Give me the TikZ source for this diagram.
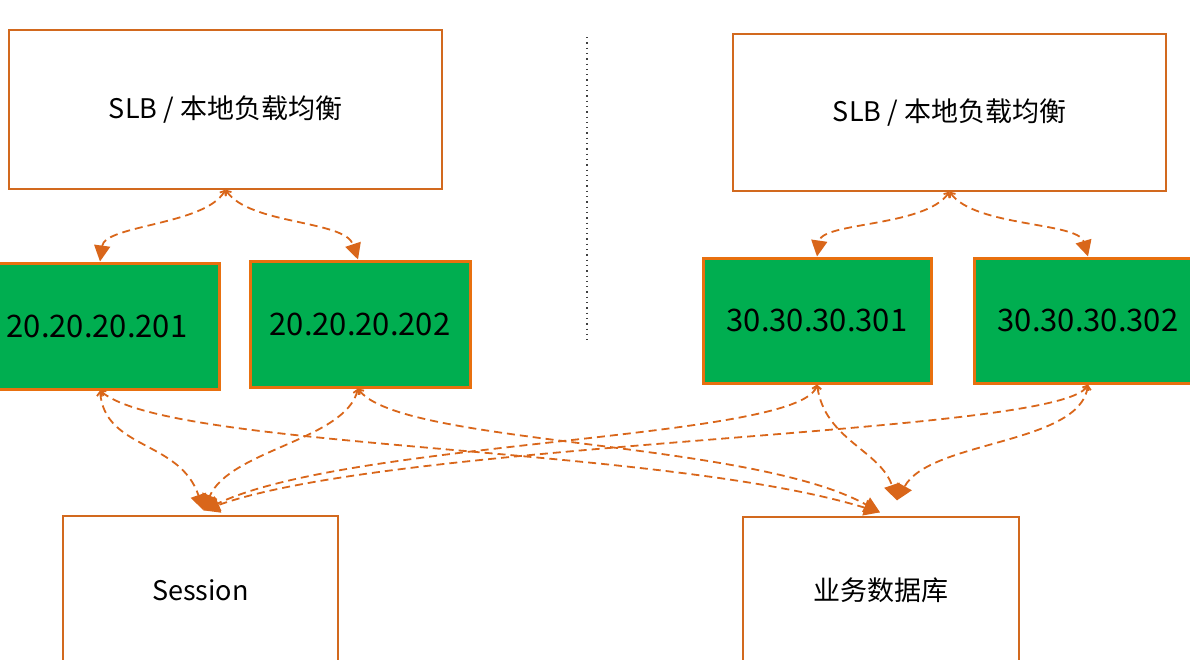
\documentclass[tikz,border=0pt]{standalone}
\usepackage{fontspec}
\setmainfont{Noto Sans CJK SC}
\usetikzlibrary{arrows.meta,calc}
\definecolor{bord}{HTML}{D2691E}
\definecolor{gbord}{HTML}{E8700F}
\definecolor{gfill}{HTML}{00AE50}
\definecolor{ln}{HTML}{D9661A}
\tikzset{
  whitebox/.style={draw=bord, line width=1.3pt, fill=white, inner sep=0pt, font=\fontsize{27}{32}\selectfont},
  greenbox/.style={draw=gbord, line width=3pt, fill=gfill, inner sep=0pt, font=\fontsize{31}{36}\selectfont},
  conn/.style={draw=ln, line width=1.8pt, dash pattern=on 8pt off 5pt,
    {Straight Barb[length=4pt,width=7pt]}-{Triangle[length=16pt,width=16pt]}},
}
\begin{document}
\begin{tikzpicture}[x=1pt,y=-1pt]
\useasboundingbox (0,0) rectangle (1190,659);
% boxes
\node[whitebox, minimum width=433pt, minimum height=159pt] (slbL) at (225.5,109.5) {SLB / 本地负载均衡};
\node[whitebox, minimum width=433pt, minimum height=157pt] (slbR) at (949.5,112.5) {SLB / 本地负载均衡};
\node[greenbox, minimum width=244pt, minimum height=126pt] (g201) at (97,326) {20.20.20.201};
\node[greenbox, minimum width=220pt, minimum height=126pt] (g202) at (360,324) {20.20.20.202};
\node[greenbox, minimum width=228pt, minimum height=125pt] (g301) at (817,320.5) {30.30.30.301};
\node[greenbox, minimum width=228pt, minimum height=125pt] (g302) at (1088,320.5) {30.30.30.302};
\node[whitebox, minimum width=275pt, minimum height=148pt] (sess) at (200.5,590) {Session};
\node[whitebox, minimum width=276pt, minimum height=146pt] (db) at (881,590) {业务数据库};
% dotted divider
\coordinate (divT) at (587,37);
\coordinate (divB) at (587,343);
\draw[black!75, line width=1.3pt, dash pattern=on 1.3pt off 4pt] (divT) -- (divB);
% targets
\coordinate (sIn) at ($(sess.north)+(3,-5)$);
\coordinate (dIn) at ($(db.north)+(-1,-4)$);
\coordinate (dIn2) at ($(db.north)+(16,-16)$);
% SLB to servers
\draw[conn] (slbL.south) .. controls (205,225) and (105,225) .. (g201.north -| 100,0);
\draw[conn] (slbL.south) .. controls (250,225) and (345,220) .. (g202.north -| 358,0);
\draw[conn] (slbR.south) .. controls (925,227) and (822,222) .. (g301.north);
\draw[conn] (slbR.south) .. controls (975,227) and (1078,222) .. (g302.north);
% servers to session / db
\draw[conn] (g201.south -| 100,0) .. controls (105,450) and (180,440) .. (sIn);
\draw[conn] (g201.south -| 100,0) .. controls (170,450) and (660,445) .. (dIn);
\draw[conn] (g202.south -| 358,0) .. controls (345,440) and (230,450) .. (sIn);
\draw[conn] (g202.south -| 358,0) .. controls (400,445) and (750,440) .. (dIn);
\draw[conn] (g301.south) .. controls (800,440) and (350,440) .. (sIn);
\draw[conn] (g301.south) .. controls (825,440) and (880,450) .. (dIn2);
\draw[conn] (g302.south) .. controls (1060,435) and (400,440) .. (sIn);
\draw[conn] (g302.south) .. controls (1080,445) and (930,440) .. (dIn2);
\end{tikzpicture}
\end{document}
